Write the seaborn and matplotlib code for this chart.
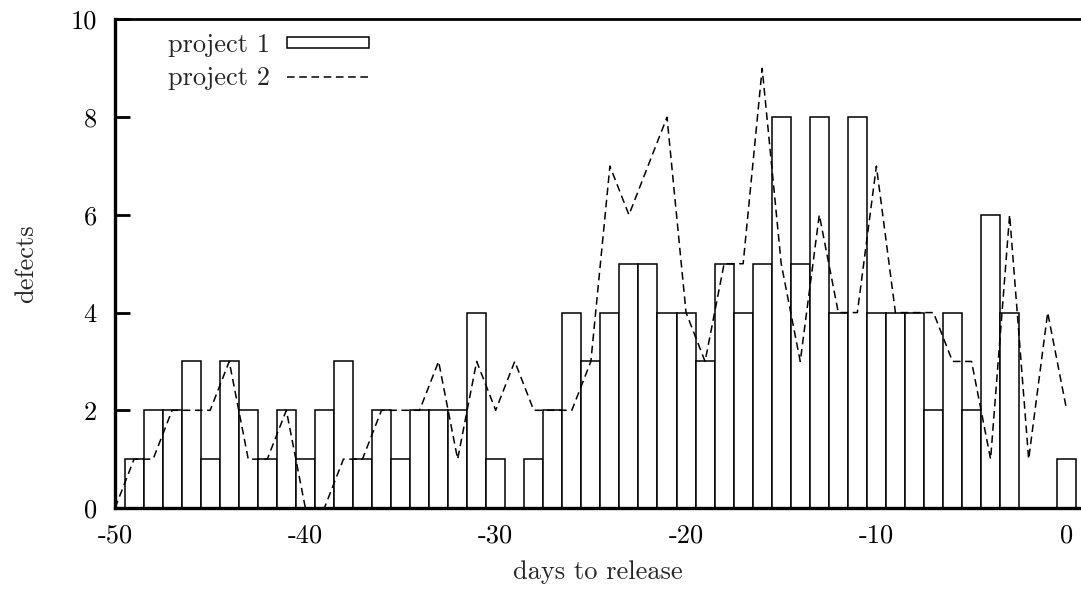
import matplotlib
matplotlib.use('Agg')
import matplotlib.pyplot as plt
import seaborn as sns


# project 1: defects per day, days -49 .. 0
days1 = list(range(-49, 1))
project1 = [1, 2, 2, 3, 1, 3, 2, 1, 2, 1,
            2, 3, 1, 2, 1, 2, 2, 2, 4, 1,
            0, 1, 2, 4, 3, 4, 5, 5, 4, 4,
            3, 5, 4, 5, 8, 5, 8, 4, 8, 4,
            4, 4, 2, 4, 2, 6, 4, 0, 0, 1]

# project 2: defects per day, days -50 .. 0
days2 = list(range(-50, 1))
project2 = [0, 1, 1, 2, 2, 2, 3, 1, 1, 2,
            0, 0, 1, 1, 2, 2, 2, 3, 1, 3,
            2, 3, 2, 2, 2, 3, 7, 6, 7, 8,
            4, 3, 5, 5, 9, 5, 3, 6, 4, 4,
            7, 4, 4, 4, 3, 3, 1, 6, 1, 4,
            2]

x_ticks = [-50, -40, -30, -20, -10, 0]
y_ticks = [0, 2, 4, 6, 8, 10]

sns.set_style('white')
plt.rcParams['font.family'] = ['cmr10', 'DejaVu Serif']
plt.rcParams['axes.unicode_minus'] = False
plt.rcParams['lines.dashed_pattern'] = [5, 3]

fig = plt.figure(figsize=(10.81, 5.94), dpi=100)
ax = fig.add_axes([0.1064, 0.1448, 0.8936, 0.8224])

sns.barplot(x=days1, y=project1, native_scale=True, width=1, color='white',
            saturation=1, edgecolor='black', linewidth=1.1, errorbar=None,
            label='project 1', ax=ax)
sns.lineplot(x=days2, y=project2, color='black', linestyle='--', linewidth=1.1,
             label='project 2', ax=ax)

ax.set_xlim(-50, 0.75)
ax.set_ylim(0, 10)
ax.set_xticks(x_ticks)
ax.set_yticks(y_ticks)
ax.set_xticklabels([str(t) for t in x_ticks])

for side in ['left', 'bottom']:
    ax.spines[side].set_linewidth(2.4)
ax.spines['top'].set_linewidth(2.0)
ax.spines['right'].set_visible(False)
for s in ax.spines.values():
    s.set_color('black')

ax.tick_params(axis='both', direction='in', length=11, width=2, labelsize=19,
               colors='black')
ax.tick_params(axis='y', pad=13, right=False, left=True)
ax.tick_params(axis='x', pad=11, top=False, bottom=True)

ax.set_xlabel('days to release', fontsize=19)
ax.set_ylabel('defects', fontsize=19)
ax.xaxis.set_label_coords(0.5, -0.108)
ax.yaxis.set_label_coords(-0.08, 0.5)

# legend in the order project 1, project 2
handles, labels = ax.get_legend_handles_labels()
order = [labels.index('project 1'), labels.index('project 2')]
ax.legend([handles[i] for i in order], [labels[i] for i in order],
          loc='upper left', bbox_to_anchor=(0.033, 1.015), frameon=False,
          markerfirst=False, fontsize=19, handlelength=3.1, handleheight=0.25,
          handletextpad=0.65, labelspacing=0.34, borderpad=0.3)

fig.savefig('out.png', dpi=100)
